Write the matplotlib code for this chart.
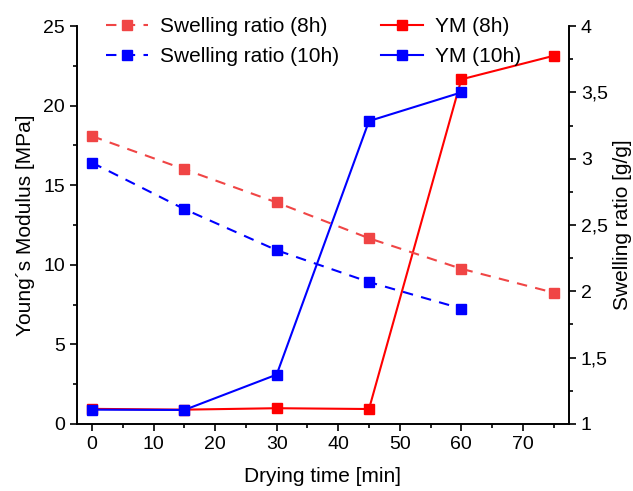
import matplotlib.pyplot as plt
from matplotlib.ticker import MultipleLocator, FuncFormatter

plt.rcParams['font.family'] = ['Liberation Sans', 'DejaVu Sans']

# drying time [min]
time_8h = [0, 15, 30, 45, 60, 75]
time_10h = [0, 15, 30, 45, 60]

# Young's modulus [MPa]
ym_8h = [0.95, 0.90, 0.99, 0.94, 21.65, 23.13]
ym_10h = [0.90, 0.88, 3.10, 19.03, 20.83]

# swelling ratio [g/g]
sw_8h = [3.17, 2.92, 2.67, 2.40, 2.17, 1.99]
sw_10h = [2.97, 2.62, 2.31, 2.07, 1.87]

fig = plt.figure(figsize=(6.33, 4.91), dpi=100)
ax = fig.add_axes([0.121, 0.1365, 0.778, 0.8105])
ax2 = ax.twinx()

# YM lines on left axis
l_ym8, = ax.plot(time_8h, ym_8h, color='#ff0000', lw=1.5, marker='s', ms=6.5,
                 mec='#ff0000', label='YM (8h)')
l_ym10, = ax.plot(time_10h, ym_10h, color='#0000ff', lw=1.5, marker='s', ms=6.5,
                  mec='#0000ff', label='YM (10h)')

# swelling ratio on right axis
l_sw8, = ax2.plot(time_8h, sw_8h, color='#f04545', lw=1.5, ls=(0, (5, 4)),
                  marker='s', ms=6.5, mec='#f04545', label='Swelling ratio (8h)')
l_sw10, = ax2.plot(time_10h, sw_10h, color='#0000ff', lw=1.5, ls=(0, (5, 4)),
                   marker='s', ms=6.5, mec='#0000ff', label='Swelling ratio (10h)')

ax.set_xlim(-2.5, 77.5)
ax.set_ylim(0, 25)
ax2.set_ylim(1, 4)

ax.xaxis.set_major_locator(MultipleLocator(10))
ax.xaxis.set_minor_locator(MultipleLocator(5))
ax.yaxis.set_major_locator(MultipleLocator(5))
ax.yaxis.set_minor_locator(MultipleLocator(2.5))
ax2.yaxis.set_major_locator(MultipleLocator(0.5))
ax2.yaxis.set_minor_locator(MultipleLocator(0.25))
ax2.yaxis.set_major_formatter(FuncFormatter(lambda v, p: ('%g' % v).replace('.', ',')))

for a in (ax, ax2):
    a.spines['top'].set_visible(False)
    for s in a.spines.values():
        s.set_linewidth(1.2)
    a.tick_params(which='major', direction='out', length=5, width=1.2, labelsize=14)
    a.tick_params(which='minor', direction='out', length=3, width=1.2)

ax.set_xlabel('Drying time [min]', fontsize=15, labelpad=10)
ax.set_ylabel('Young´s Modulus [MPa]', fontsize=15, labelpad=6)
ax2.set_ylabel('Swelling ratio [g/g]', fontsize=15, labelpad=4)

ax.legend(handles=[l_sw8, l_sw10, l_ym8, l_ym10], ncol=2, frameon=False,
          loc='upper left', bbox_to_anchor=(0.022, 1.07), fontsize=15,
          handlelength=2.0, columnspacing=2.0, handletextpad=0.6, labelspacing=0.55)

plt.savefig('out.png')
